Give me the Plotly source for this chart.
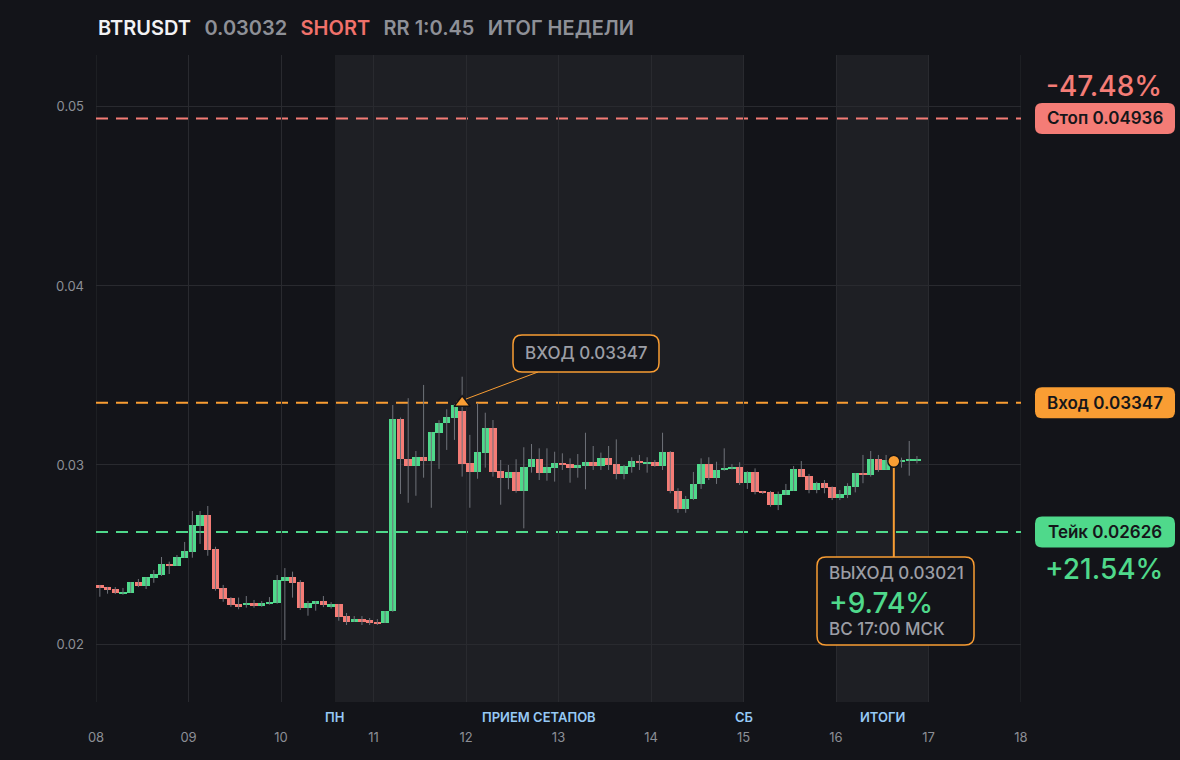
import pandas as pd
import plotly.graph_objects as go

# ---------------- data ----------------
symbol = "BTRUSDT"
last_price = "0.03032"
side = "SHORT"
rr_label = "RR 1:0.45"
period_label = "ИТОГ НЕДЕЛИ"

entry_price = 0.03347
stop_price = 0.04936
take_price = 0.02626
exit_price = 0.03021
entry_time = "2025-11-11 23:00"
exit_time = "2025-11-16 15:00"
stop_pct = "-47.48%"
take_pct = "+21.54%"
exit_pct = "+9.74%"
exit_when = "ВС 17:00 МСК"
entry_box_text = "ВХОД 0.03347"
exit_box_text = "ВЫХОД 0.03021"
stop_tag = "Стоп 0.04936"
entry_tag = "Вход 0.03347"
take_tag = "Тейк 0.02626"

first_candle = "2025-11-08 01:00"   # 2h candles (centre times)
opens = [
    0.02329, 0.02318, 0.02307, 0.02281, 0.02286, 0.02345, 0.02324, 0.02370, 0.02387, 0.02447,
    0.02436, 0.02480, 0.02514, 0.02659, 0.02721, 0.02530, 0.02313, 0.02257, 0.02223, 0.02218,
    0.02229, 0.02212, 0.02225, 0.02229, 0.02352, 0.02374, 0.02346, 0.02201, 0.02223, 0.02240,
    0.02212, 0.02223, 0.02156, 0.02123, 0.02139, 0.02134, 0.02123, 0.02117, 0.02184, 0.03257,
    0.03033, 0.02996, 0.03043, 0.03024, 0.03180, 0.03235, 0.03264, 0.03303, 0.03011, 0.02962,
    0.03069, 0.03207, 0.02966, 0.02929, 0.02961, 0.02856, 0.02987, 0.03032, 0.02957, 0.02985,
    0.03009, 0.03004, 0.02985, 0.02996, 0.03015, 0.02996, 0.03039, 0.03005, 0.02951, 0.02990,
    0.03022, 0.03009, 0.03015, 0.02996, 0.03073, 0.02856, 0.02754, 0.02810, 0.02894, 0.03005,
    0.02929, 0.02972, 0.02979, 0.02990, 0.02901, 0.02961, 0.02855, 0.02849, 0.02776, 0.02832,
    0.02855, 0.02978, 0.02938, 0.02860, 0.02898, 0.02875, 0.02817, 0.02832, 0.02877, 0.02955,
    0.02946, 0.03033, 0.02974, 0.03028, 0.03019, 0.03024, 0.03025,
]
highs = [
    0.02330, 0.02319, 0.02318, 0.02313, 0.02346, 0.02363, 0.02372, 0.02413, 0.02486, 0.02460,
    0.02497, 0.02570, 0.02743, 0.02743, 0.02771, 0.02543, 0.02330, 0.02262, 0.02259, 0.02268,
    0.02246, 0.02240, 0.02262, 0.02385, 0.02424, 0.02404, 0.02357, 0.02240, 0.02240, 0.02268,
    0.02234, 0.02223, 0.02173, 0.02156, 0.02156, 0.02145, 0.02139, 0.02184, 0.03335, 0.03265,
    0.03373, 0.03078, 0.03447, 0.03184, 0.03250, 0.03311, 0.03340, 0.03493, 0.03168, 0.03345,
    0.03292, 0.03251, 0.03028, 0.03000, 0.03032, 0.03099, 0.03117, 0.03093, 0.03093, 0.03074,
    0.03065, 0.03037, 0.03061, 0.03180, 0.03106, 0.03069, 0.03106, 0.03143, 0.03000, 0.03043,
    0.03056, 0.03043, 0.03028, 0.03180, 0.03078, 0.02870, 0.02827, 0.02961, 0.03037, 0.03043,
    0.03018, 0.03093, 0.03005, 0.03015, 0.02965, 0.02981, 0.02855, 0.02855, 0.02851, 0.02894,
    0.02994, 0.03022, 0.02950, 0.02906, 0.02916, 0.02880, 0.02860, 0.02898, 0.02955, 0.03056,
    0.03078, 0.03056, 0.03056, 0.03035, 0.03041, 0.03134, 0.03050,
]
lows = [
    0.02264, 0.02281, 0.02279, 0.02275, 0.02286, 0.02318, 0.02307, 0.02342, 0.02380, 0.02391,
    0.02436, 0.02480, 0.02482, 0.02559, 0.02493, 0.02298, 0.02236, 0.02208, 0.02194, 0.02203,
    0.02203, 0.02208, 0.02220, 0.02225, 0.02022, 0.02259, 0.02190, 0.02158, 0.02186, 0.02206,
    0.02198, 0.02130, 0.02106, 0.02123, 0.02106, 0.02106, 0.02106, 0.02117, 0.02180, 0.02838,
    0.02789, 0.02828, 0.02929, 0.02761, 0.02978, 0.03084, 0.03140, 0.02935, 0.02761, 0.02923,
    0.02985, 0.02935, 0.02778, 0.02864, 0.02845, 0.02646, 0.02957, 0.02916, 0.02912, 0.02907,
    0.02972, 0.02901, 0.02929, 0.02864, 0.02972, 0.02972, 0.02972, 0.02920, 0.02920, 0.02957,
    0.02972, 0.02957, 0.02990, 0.02972, 0.02842, 0.02733, 0.02733, 0.02804, 0.02866, 0.02916,
    0.02894, 0.02968, 0.02975, 0.02888, 0.02866, 0.02836, 0.02838, 0.02767, 0.02748, 0.02832,
    0.02855, 0.02935, 0.02842, 0.02842, 0.02842, 0.02804, 0.02804, 0.02815, 0.02847, 0.02898,
    0.02935, 0.02962, 0.02974, 0.03010, 0.02985, 0.02940, 0.03009,
]
closes = [
    0.02314, 0.02303, 0.02286, 0.02290, 0.02346, 0.02324, 0.02372, 0.02391, 0.02447, 0.02436,
    0.02486, 0.02519, 0.02665, 0.02721, 0.02525, 0.02307, 0.02251, 0.02218, 0.02212, 0.02229,
    0.02212, 0.02229, 0.02234, 0.02357, 0.02374, 0.02341, 0.02201, 0.02229, 0.02240, 0.02218,
    0.02223, 0.02151, 0.02123, 0.02139, 0.02128, 0.02117, 0.02112, 0.02184, 0.03257, 0.03032,
    0.02996, 0.03043, 0.03024, 0.03184, 0.03235, 0.03268, 0.03335, 0.03005, 0.02962, 0.03073,
    0.03207, 0.02962, 0.02929, 0.02961, 0.02856, 0.02987, 0.03032, 0.02957, 0.02987, 0.03009,
    0.03000, 0.02985, 0.03000, 0.03015, 0.02996, 0.03039, 0.03002, 0.02951, 0.02994, 0.03022,
    0.03009, 0.03015, 0.02996, 0.03073, 0.02856, 0.02754, 0.02810, 0.02894, 0.03005, 0.02929,
    0.02972, 0.02985, 0.02990, 0.02901, 0.02961, 0.02851, 0.02843, 0.02776, 0.02838, 0.02860,
    0.02978, 0.02935, 0.02860, 0.02898, 0.02873, 0.02817, 0.02836, 0.02883, 0.02955, 0.02944,
    0.03033, 0.02974, 0.03028, 0.03021, 0.03024, 0.03025, 0.03032,
]

axis_start = "2025-11-08"
axis_end = "2025-11-18"
y_ticks = [0.02, 0.03, 0.04, 0.05]
y_range = [0.01676, 0.05290]
zones = [("2025-11-10 14:00", "2025-11-15 00:00"), ("2025-11-16 00:00", "2025-11-17 00:00")]
zone_labels = [("2025-11-10 14:00", "ПН"), ("2025-11-12 19:00", "ПРИЕМ СЕТАПОВ"),
               ("2025-11-15 00:00", "СБ"), ("2025-11-16 12:00", "ИТОГИ")]

# ---------------- style ----------------
W, H = 1180, 760
ML, MR, MT, MB = 96, 159, 55, 58
PW, PH = W - ML - MR, H - MT - MB
BG = "#131419"
SHADE = "#1e1f24"
GRID = "#292a2f"
UP = "#4fd98b"
DOWN = "#f47c76"
ORANGE = "#f99d33"
WICK = "#6f7279"
TXT = "#8c8f96"
LABEL_TXT = "#9c9ea5"
BLUE = "#96c9f6"
FONT = "Inter"


def px_x(px):
    return (px - ML) / PW


def px_y(py):
    return (H - MB - py) / PH


def price_y(p):
    return (p - y_range[0]) / (y_range[1] - y_range[0])


def rrect(x0, y0, x1, y1, r=7):
    rx, ry = r / PW, r / PH
    return (f"M{x0 + rx},{y0} L{x1 - rx},{y0} Q{x1},{y0} {x1},{y0 + ry} "
            f"L{x1},{y1 - ry} Q{x1},{y1} {x1 - rx},{y1} L{x0 + rx},{y1} "
            f"Q{x0},{y1} {x0},{y1 - ry} L{x0},{y0 + ry} Q{x0},{y0} {x0 + rx},{y0} Z")


times = pd.date_range(first_candle, periods=len(opens), freq="2h")

wx, wy = [], []
for t, lo, hi in zip(times, lows, highs):
    wx += [t, t, None]
    wy += [lo, hi, None]

base = [min(o, c) for o, c in zip(opens, closes)]
height = [max(abs(c - o), 0.00009) for o, c in zip(opens, closes)]
colors = [UP if c >= o else DOWN for o, c in zip(opens, closes)]

fig = go.Figure()
fig.add_trace(go.Scatter(x=wx, y=wy, mode="lines", line=dict(color=WICK, width=1),
                         hoverinfo="skip", showlegend=False))
fig.add_trace(go.Bar(x=times, y=height, base=base, marker=dict(color=colors, line=dict(width=0)),
                     width=6.9e6, showlegend=False, hoverinfo="skip"))
fig.add_trace(go.Scatter(x=[entry_time], y=[entry_price], mode="markers",
                         marker=dict(symbol="triangle-up", size=14, color=ORANGE,
                                     line=dict(color=BG, width=1.5)),
                         showlegend=False, hoverinfo="skip"))
fig.add_trace(go.Scatter(x=[exit_time], y=[exit_price], mode="markers",
                         marker=dict(symbol="circle", size=12, color=ORANGE,
                                     line=dict(color=BG, width=1.5)),
                         showlegend=False, hoverinfo="skip"))

shapes = []
for z0, z1 in zones:
    shapes.append(dict(type="rect", xref="x", yref="paper", x0=z0, x1=z1, y0=0, y1=1,
                       fillcolor=SHADE, line=dict(width=0), layer="below"))
for xe in (axis_start, axis_end):
    shapes.append(dict(type="line", xref="x", yref="paper", x0=xe, x1=xe, y0=0, y1=1,
                       line=dict(color=GRID, width=1), layer="below"))
for p, col in [(stop_price, DOWN), (entry_price, ORANGE), (take_price, UP)]:
    shapes.append(dict(type="line", xref="paper", yref="y", x0=0, x1=1, y0=p, y1=p,
                       line=dict(color=col, width=2, dash="12px,8px"), layer="between"))

annotations = []
# level tags on the right
for p, col, tag in [(stop_price, DOWN, stop_tag), (entry_price, ORANGE, entry_tag), (take_price, UP, take_tag)]:
    yc = price_y(p)
    shapes.append(dict(type="path", xref="paper", yref="paper",
                       path=rrect(px_x(1035), yc - 15.5 / PH, px_x(1175), yc + 15.5 / PH),
                       fillcolor=col, line=dict(width=0), layer="above"))
    annotations.append(dict(xref="paper", yref="y", x=px_x(1105), y=p, text=tag, showarrow=False,
                            xanchor="center", yanchor="middle",
                            font=dict(family=FONT, size=17, color="#15161a", weight=600)))
annotations.append(dict(xref="paper", yref="y", x=px_x(1104), y=stop_price, yshift=32, text=stop_pct,
                        showarrow=False, xanchor="center", yanchor="middle",
                        font=dict(family=FONT, size=28, color=DOWN, weight=500)))
annotations.append(dict(xref="paper", yref="y", x=px_x(1104), y=take_price, yshift=-37, text=take_pct,
                        showarrow=False, xanchor="center", yanchor="middle",
                        font=dict(family=FONT, size=28, color=UP, weight=500)))

# entry callout
shapes.append(dict(type="line", xref="paper", yref="paper", x0=px_x(466), y0=px_y(399),
                   x1=px_x(538), y1=px_y(372), line=dict(color=ORANGE, width=1), layer="above"))
shapes.append(dict(type="path", xref="paper", yref="paper",
                   path=rrect(px_x(513), px_y(372), px_x(659), px_y(335), r=9),
                   fillcolor=BG, line=dict(color=ORANGE, width=1.5), layer="above"))
annotations.append(dict(xref="paper", yref="paper", x=px_x(586), y=px_y(353), text=entry_box_text,
                        showarrow=False, xanchor="center", yanchor="middle",
                        font=dict(family=FONT, size=17, color=LABEL_TXT, weight=500)))

# exit callout
shapes.append(dict(type="line", xref="x", yref="y", x0=exit_time, x1=exit_time, y0=exit_price,
                   y1=y_range[1] - (557 - MT) / PH * (y_range[1] - y_range[0]),
                   line=dict(color=ORANGE, width=2), layer="between"))
shapes.append(dict(type="path", xref="paper", yref="paper",
                   path=rrect(px_x(817), px_y(645), px_x(974), px_y(557), r=9),
                   fillcolor=BG, line=dict(color=ORANGE, width=1.5), layer="above"))
for txt, py, size, col in [(exit_box_text, 573, 17, LABEL_TXT), (exit_pct, 603, 28, UP),
                           (exit_when, 629, 17, LABEL_TXT)]:
    annotations.append(dict(xref="paper", yref="paper", x=px_x(827), y=px_y(py), text=txt,
                            showarrow=False, xanchor="left", yanchor="middle",
                            font=dict(family=FONT, size=size, color=col, weight=500)))

# zone labels under the plot
for t, txt in zone_labels:
    annotations.append(dict(xref="x", yref="paper", x=t, y=0, yshift=-15, text=txt, showarrow=False,
                            xanchor="center", yanchor="middle",
                            font=dict(family=FONT, size=13, color=BLUE, weight=600)))

# title
sp = "\u00a0\u00a0\u2009"
title = (f"<span style='color:#f2f2f4'>{symbol}</span>{sp}"
         f"<span style='color:#8e9097'>{last_price}</span>{sp}"
         f"<span style='color:#f0716b'>{side}</span>{sp}"
         f"<span style='color:#8e9097'>{rr_label}</span>{sp}"
         f"<span style='color:#8e9097'>{period_label}</span>")
annotations.append(dict(xref="paper", yref="paper", x=px_x(96), y=px_y(28), text=title,
                        showarrow=False, xanchor="left", yanchor="middle",
                        font=dict(family=FONT, size=20, color="#f2f2f4", weight=600)))

fig.update_layout(
    width=W, height=H, margin=dict(l=ML, r=MR, t=MT, b=MB),
    paper_bgcolor=BG, plot_bgcolor=BG, bargap=0,
    font=dict(family=FONT, color=TXT, size=13),
    shapes=shapes, annotations=annotations, showlegend=False,
    xaxis=dict(type="date", range=[axis_start, axis_end], tickformat="%d",
               tickvals=pd.date_range(axis_start, axis_end, freq="D"),
               showgrid=True, gridcolor=GRID, gridwidth=1, zeroline=False, showline=False,
               ticks="", ticklabelstandoff=26, tickfont=dict(size=13, color=TXT),
               fixedrange=True),
    yaxis=dict(range=y_range, tickvals=y_ticks, tickformat=".2f", showgrid=True,
               gridcolor=GRID, gridwidth=1, zeroline=False, showline=False, ticks="",
               ticklabelstandoff=11, tickfont=dict(size=13, color=TXT), fixedrange=True),
)

fig.write_html("out.html", config={"displayModeBar": False},
               post_script="document.body.style.margin='0';document.body.style.overflow='hidden';"
                           "document.body.style.background='" + BG + "';")
